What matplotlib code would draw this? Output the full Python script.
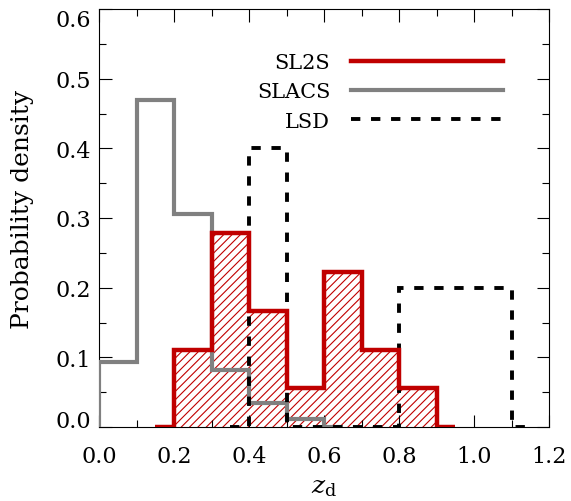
import numpy as np
import matplotlib
matplotlib.use("Agg")
import matplotlib.pyplot as plt
from matplotlib.ticker import MultipleLocator

# Histogram data (fraction per bin of width 0.1)
sl2s_edges = [0.15, 0.2, 0.3, 0.4, 0.5, 0.6, 0.7, 0.8, 0.9, 0.95]
sl2s_vals = [0.0, 0.111, 0.278, 0.167, 0.056, 0.222, 0.111, 0.056, 0.0]

slacs_edges = [-0.05, 0.0, 0.1, 0.2, 0.3, 0.4, 0.5, 0.6, 0.65]
slacs_vals = [0.0, 0.094, 0.470, 0.306, 0.082, 0.035, 0.012, 0.0]

lsd_edges = [0.35, 0.4, 0.5, 0.8, 1.1, 1.15]
lsd_vals = [0.0, 0.4, 0.0, 0.2, 0.0]

red = "#c00000"
gray = "#808080"

plt.rcParams["font.family"] = ["DejaVu Serif"]
plt.rcParams["mathtext.fontset"] = "dejavuserif"
plt.rcParams["hatch.linewidth"] = 0.8

fig = plt.figure(figsize=(5.71, 5.02), dpi=100)
ax = fig.add_axes([99 / 571, (502 - 428) / 502, 450 / 571, 418 / 502])

# hatched fill for SL2S
ax.stairs(sl2s_vals, sl2s_edges, fill=True, hatch="////", facecolor="none",
          edgecolor=red, linewidth=0)
ax.stairs(slacs_vals, slacs_edges, baseline=None, color=gray, linewidth=3,
          label="SLACS", zorder=3)
ax.stairs(lsd_vals, lsd_edges, baseline=None, color="black", linewidth=2.8,
          linestyle=(0, (2.4, 2.75)), label="LSD", zorder=4)
ax.stairs(sl2s_vals, sl2s_edges, baseline=None, color=red, linewidth=3.2,
          label="SL2S", zorder=5)

ax.set_xlim(0, 1.2)
ax.set_ylim(0, 0.6)
ax.xaxis.set_major_locator(MultipleLocator(0.2))
ax.xaxis.set_minor_locator(MultipleLocator(0.1))
ax.yaxis.set_major_locator(MultipleLocator(0.1))
ax.yaxis.set_minor_locator(MultipleLocator(0.05))
ax.xaxis.set_major_formatter(plt.FormatStrFormatter("%.1f"))
ax.yaxis.set_major_formatter(plt.FormatStrFormatter("%.1f"))
ax.tick_params(which="both", direction="in", top=True, right=True, labelsize=16)
ax.tick_params(which="major", length=9, width=0.8)
ax.tick_params(which="minor", length=5, width=0.8)
ax.tick_params(axis="x", pad=13)
ax.tick_params(axis="y", pad=6)
for s in ax.spines.values():
    s.set_linewidth(0.8)

ax.set_xlabel(r"$z_{\mathrm{d}}$", fontsize=18, labelpad=6)
ax.set_ylabel("Probability density", fontsize=18)
ax.yaxis.set_label_coords(-0.145, 0.524)

h, l = ax.get_legend_handles_labels()
order = [2, 0, 1]
ax.legend([h[i] for i in order], [l[i] for i in order], loc="upper right",
          bbox_to_anchor=(0.94, 0.94), frameon=False, markerfirst=False,
          fontsize=15, handlelength=7.3, handletextpad=1.0, labelspacing=0.5)

# keep the end labels inside the axes height, as in the original
fig.canvas.draw()
for tick in ax.yaxis.get_major_ticks():
    loc = round(tick.get_loc(), 3)
    if loc == 0.0:
        tick.label1.set_verticalalignment("baseline")
    elif loc == 0.6:
        tick.label1.set_verticalalignment("top")

fig.savefig("out.png", dpi=100)
